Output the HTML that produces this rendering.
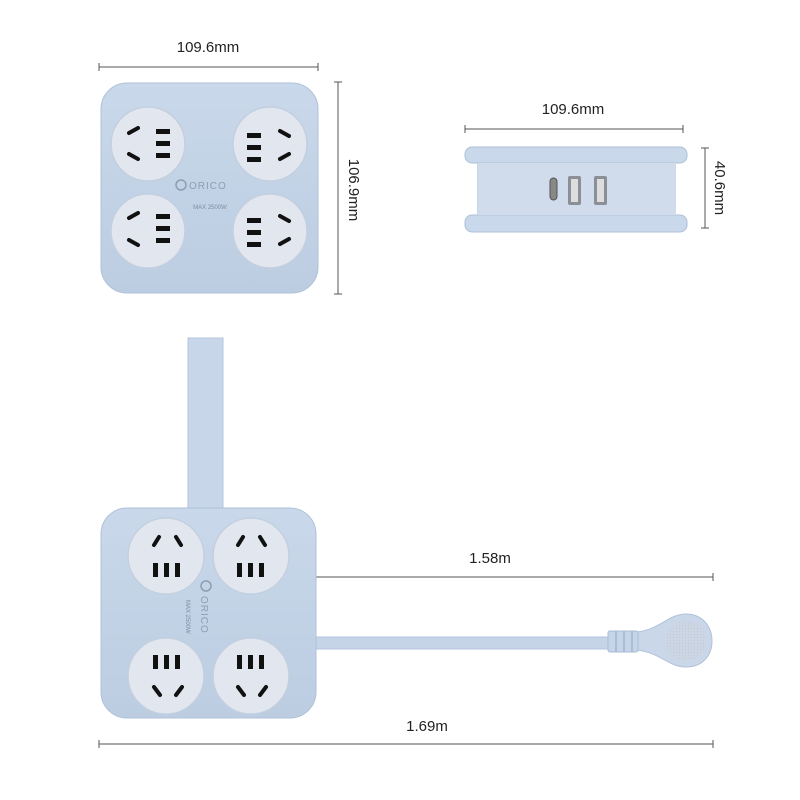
<!DOCTYPE html>
<html><head><meta charset="utf-8"><style>
html,body{margin:0;padding:0;background:#fff;}
svg{display:block;}
text{font-family:"Liberation Sans",sans-serif;fill:#222;}
</style></head><body>
<svg width="800" height="800" viewBox="0 0 800 800" xmlns="http://www.w3.org/2000/svg">
<defs>
<linearGradient id="bd" x1="0" y1="0" x2="0" y2="1"><stop offset="0" stop-color="#c9d8ea"/><stop offset="1" stop-color="#bccde2"/></linearGradient>
<pattern id="dots" width="3" height="3" patternUnits="userSpaceOnUse"><rect width="3" height="3" fill="#cdd7e4"/><circle cx="1.5" cy="1.5" r="0.7" fill="#bfcadb"/></pattern>
</defs>
<g stroke="#555" stroke-width="1" fill="none">
<line x1="99" y1="67" x2="318" y2="67"/><line x1="99" y1="63" x2="99" y2="71"/><line x1="318" y1="63" x2="318" y2="71"/>
<line x1="338" y1="82" x2="338" y2="294"/><line x1="334" y1="82" x2="342" y2="82"/><line x1="334" y1="294" x2="342" y2="294"/>
<line x1="465" y1="129" x2="683" y2="129"/><line x1="465" y1="125" x2="465" y2="133"/><line x1="683" y1="125" x2="683" y2="133"/>
<line x1="705" y1="148" x2="705" y2="228"/><line x1="701" y1="148" x2="709" y2="148"/><line x1="701" y1="228" x2="709" y2="228"/>
<line x1="315" y1="577" x2="713" y2="577"/><line x1="315" y1="573" x2="315" y2="581"/><line x1="713" y1="573" x2="713" y2="581"/>
<line x1="99" y1="744" x2="713" y2="744"/><line x1="99" y1="740" x2="99" y2="748"/><line x1="713" y1="740" x2="713" y2="748"/>
</g>
<text x="208" y="52" font-size="15" text-anchor="middle">109.6mm</text>
<text x="573" y="114" font-size="15" text-anchor="middle">109.6mm</text>
<text transform="translate(349,190) rotate(90)" font-size="15" text-anchor="middle">106.9mm</text>
<text transform="translate(715,188) rotate(90)" font-size="15" text-anchor="middle">40.6mm</text>
<text x="490" y="563" font-size="15" text-anchor="middle">1.58m</text>
<text x="427" y="731" font-size="15" text-anchor="middle">1.69m</text>

<!-- top view -->
<rect x="101" y="83" width="217" height="210" rx="26" fill="url(#bd)" stroke="#afc2d9"/>
<g fill="#e2e7ef" stroke="#c3cfdf" stroke-width="1.5">
<circle cx="148" cy="144" r="37"/><circle cx="270" cy="144" r="37"/><circle cx="148" cy="231" r="37"/><circle cx="270" cy="231" r="37"/>
</g>
<g stroke="#111" stroke-width="4" stroke-linecap="round">
<line x1="129" y1="133" x2="138" y2="128"/><line x1="129" y1="154" x2="138" y2="159"/>
<line x1="129" y1="218" x2="138" y2="213"/><line x1="129" y1="240" x2="138" y2="245"/>
<line x1="280" y1="131" x2="289" y2="136"/><line x1="280" y1="159" x2="289" y2="154"/>
<line x1="280" y1="216" x2="289" y2="221"/><line x1="280" y1="244" x2="289" y2="239"/>
</g>
<g fill="#111">
<rect x="156" y="129" width="14" height="5"/><rect x="156" y="141" width="14" height="5"/><rect x="156" y="153" width="14" height="5"/>
<rect x="156" y="214" width="14" height="5"/><rect x="156" y="226" width="14" height="5"/><rect x="156" y="238" width="14" height="5"/>
<rect x="247" y="133" width="14" height="5"/><rect x="247" y="145" width="14" height="5"/><rect x="247" y="157" width="14" height="5"/>
<rect x="247" y="218" width="14" height="5"/><rect x="247" y="230" width="14" height="5"/><rect x="247" y="242" width="14" height="5"/>
</g>
<circle cx="181" cy="185" r="5" fill="none" stroke="#8d9db2" stroke-width="1.5"/>
<text x="189" y="189" font-size="10" fill="#8d9db2" style="fill:#8d9db2;letter-spacing:1px">ORICO</text>
<text x="210" y="209" font-size="6" text-anchor="middle" style="fill:#7d8ca2">MAX 2500W</text>

<!-- side view -->
<rect x="477" y="157" width="199" height="62" fill="#c6d6e9"/>
<rect x="465" y="147" width="222" height="16" rx="7" fill="#c9d8ea" stroke="#aec1d8"/>
<rect x="465" y="215" width="222" height="17" rx="7" fill="#c9d8ea" stroke="#aec1d8"/>
<rect x="478" y="163" width="198" height="52" fill="#d0dcec"/>
<rect x="550" y="178" width="7" height="22" rx="3.5" fill="#888" stroke="#555"/>
<rect x="568" y="176" width="13" height="29" rx="2" fill="#8b8f96"/><rect x="571" y="179" width="7" height="23" fill="#ddd"/>
<rect x="594" y="176" width="13" height="29" rx="2" fill="#8b8f96"/><rect x="597" y="179" width="7" height="23" fill="#ddd"/>

<!-- bottom view -->
<rect x="188" y="338" width="35" height="174" fill="#c7d6e9" stroke="#b3c5dc"/>
<rect x="310" y="637" width="302" height="12" fill="#c5d4e7" stroke="#b3c5dc"/>
<path d="M636,632 C660,630 668,614 686,614 C702,614 712,626 712,641 C712,656 702,667 686,667 C668,667 660,652 636,650 Z" fill="#c9d7e9" stroke="#b0c2da"/>
<circle cx="686" cy="641" r="20" fill="url(#dots)"/>
<rect x="608" y="631" width="30" height="21" rx="2" fill="#c5d4e7" stroke="#aabdd6"/>
<g stroke="#aabdd6" stroke-width="2"><line x1="616" y1="631" x2="616" y2="652"/><line x1="624" y1="631" x2="624" y2="652"/><line x1="632" y1="631" x2="632" y2="652"/></g>
<rect x="101" y="508" width="215" height="210" rx="26" fill="url(#bd)" stroke="#afc2d9"/>
<g fill="#e2e7ef" stroke="#c3cfdf" stroke-width="1.5">
<circle cx="166" cy="556" r="38"/><circle cx="251" cy="556" r="38"/><circle cx="166" cy="676" r="38"/><circle cx="251" cy="676" r="38"/>
</g>
<g stroke="#111" stroke-width="4" stroke-linecap="round">
<line x1="154" y1="545" x2="159" y2="537"/><line x1="176" y1="537" x2="181" y2="545"/>
<line x1="238" y1="545" x2="243" y2="537"/><line x1="260" y1="537" x2="265" y2="545"/>
<line x1="154" y1="687" x2="160" y2="695"/><line x1="176" y1="695" x2="182" y2="687"/>
<line x1="238" y1="687" x2="244" y2="695"/><line x1="260" y1="695" x2="266" y2="687"/>
</g>
<g fill="#111">
<rect x="153" y="563" width="5" height="14"/><rect x="164" y="563" width="5" height="14"/><rect x="175" y="563" width="5" height="14"/>
<rect x="237" y="563" width="5" height="14"/><rect x="248" y="563" width="5" height="14"/><rect x="259" y="563" width="5" height="14"/>
<rect x="153" y="655" width="5" height="14"/><rect x="164" y="655" width="5" height="14"/><rect x="175" y="655" width="5" height="14"/>
<rect x="237" y="655" width="5" height="14"/><rect x="248" y="655" width="5" height="14"/><rect x="259" y="655" width="5" height="14"/>
</g>
<circle cx="206" cy="586" r="5" fill="none" stroke="#8d9db2" stroke-width="1.5"/>
<text transform="translate(201,596) rotate(90)" font-size="10" style="fill:#8d9db2;letter-spacing:1px">ORICO</text>
<text transform="translate(186,600) rotate(90)" font-size="6" style="fill:#7d8ca2">MAX 2500W</text>
</svg>
</body></html>
